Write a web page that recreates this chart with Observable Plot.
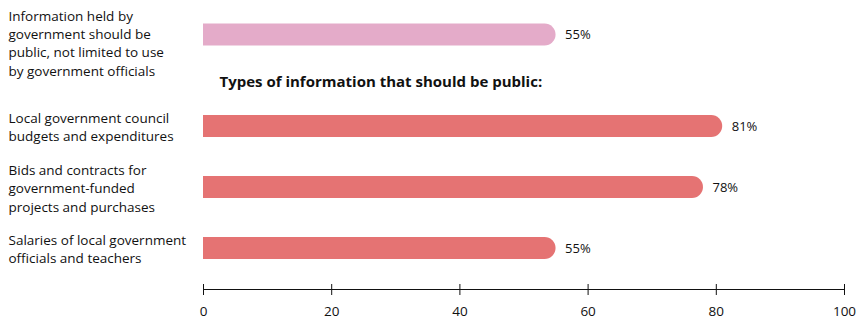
<!DOCTYPE html>
<html><head><meta charset="utf-8">
<script src="https://cdn.jsdelivr.net/npm/d3@7"></script>
<script src="https://cdn.jsdelivr.net/npm/@observablehq/plot@0.6"></script>
<style>body{margin:0;background:#fff}</style>
</head><body><div id="chart"></div>
<script>
// ---- data ----
const categories = [
  "Information held by government should be public, not limited to use by government officials",
  "Local government council budgets and expenditures",
  "Bids and contracts for government-funded projects and purchases",
  "Salaries of local government officials and teachers"
];
const labelLines = [
  "Information held by\ngovernment should be\npublic, not limited to use\nby government officials",
  "Local government council\nbudgets and expenditures",
  "Bids and contracts for\ngovernment-funded\nprojects and purchases",
  "Salaries of local government\nofficials and teachers"
];
const values = [55, 81, 78, 55];
const groups = ["overall", "type", "type", "type"];
const subtitle = "Types of information that should be public:";
const xTicks = [0, 20, 40, 60, 80, 100];

// ---- layout (row positions on y, not data) ----
const rowPos = [0, 1.5, 2.5, 3.5];
const titlePos = 0.78;
const half = 0.18;

const rows = categories.map((c, i) => ({
  category: c, label: labelLines[i], value: values[i], group: groups[i], pos: rowPos[i]
}));

const chart = Plot.plot({
  width: 858, height: 321,
  marginLeft: 203, marginRight: 14, marginTop: 0, marginBottom: 32,
  x: {domain: [0, 100], label: null},
  y: {domain: [0, 3.5], range: [34.5, 248], axis: null},
  color: {domain: ["overall", "type"], range: ["#e4abc9", "#e57373"]},
  style: {fontFamily: "'Open Sans', 'Liberation Sans', sans-serif", fontSize: "13px", color: "#111", background: "#fff"},
  marks: [
    // extend the bar left of the frame and clip, so only the right end is rounded
    Plot.rectX(rows, {x1: -5, x2: "value", y1: d => d.pos - half, y2: d => d.pos + half, fill: "group", rx: 11, clip: true}),
    Plot.text(rows, {x: "value", y: "pos", text: d => d.value + "%", textAnchor: "start", dx: 9, fill: "#111", fontSize: 13}),
    Plot.text(rows.filter(d => d.group === "type"), {y: "pos", text: "label", frameAnchor: "left", textAnchor: "start", dx: -195, lineHeight: 1.35, fill: "#111", fontSize: 13.5}),
    Plot.text(rows.filter(d => d.group === "overall"), {y: "pos", text: "label", frameAnchor: "left", textAnchor: "start", dx: -195, dy: 7.5, lineHeight: 1.35, fill: "#111", fontSize: 13.5}),
    Plot.text([subtitle], {y: () => titlePos, text: d => d, frameAnchor: "left", textAnchor: "start", dx: 16, fontWeight: "bold", fontSize: 15, fill: "#111"}),
    Plot.frame({anchor: "bottom", stroke: "#111"}),
    Plot.axisX(xTicks, {tickSize: 11, dy: -5, tickFormat: () => "", label: null, stroke: "#111"}),
    Plot.axisX(xTicks, {tickSize: 0, tickPadding: 17, label: null, fill: "#111", fontSize: 13.5})
  ]
});
document.getElementById("chart").append(chart);
</script>
</body></html>
